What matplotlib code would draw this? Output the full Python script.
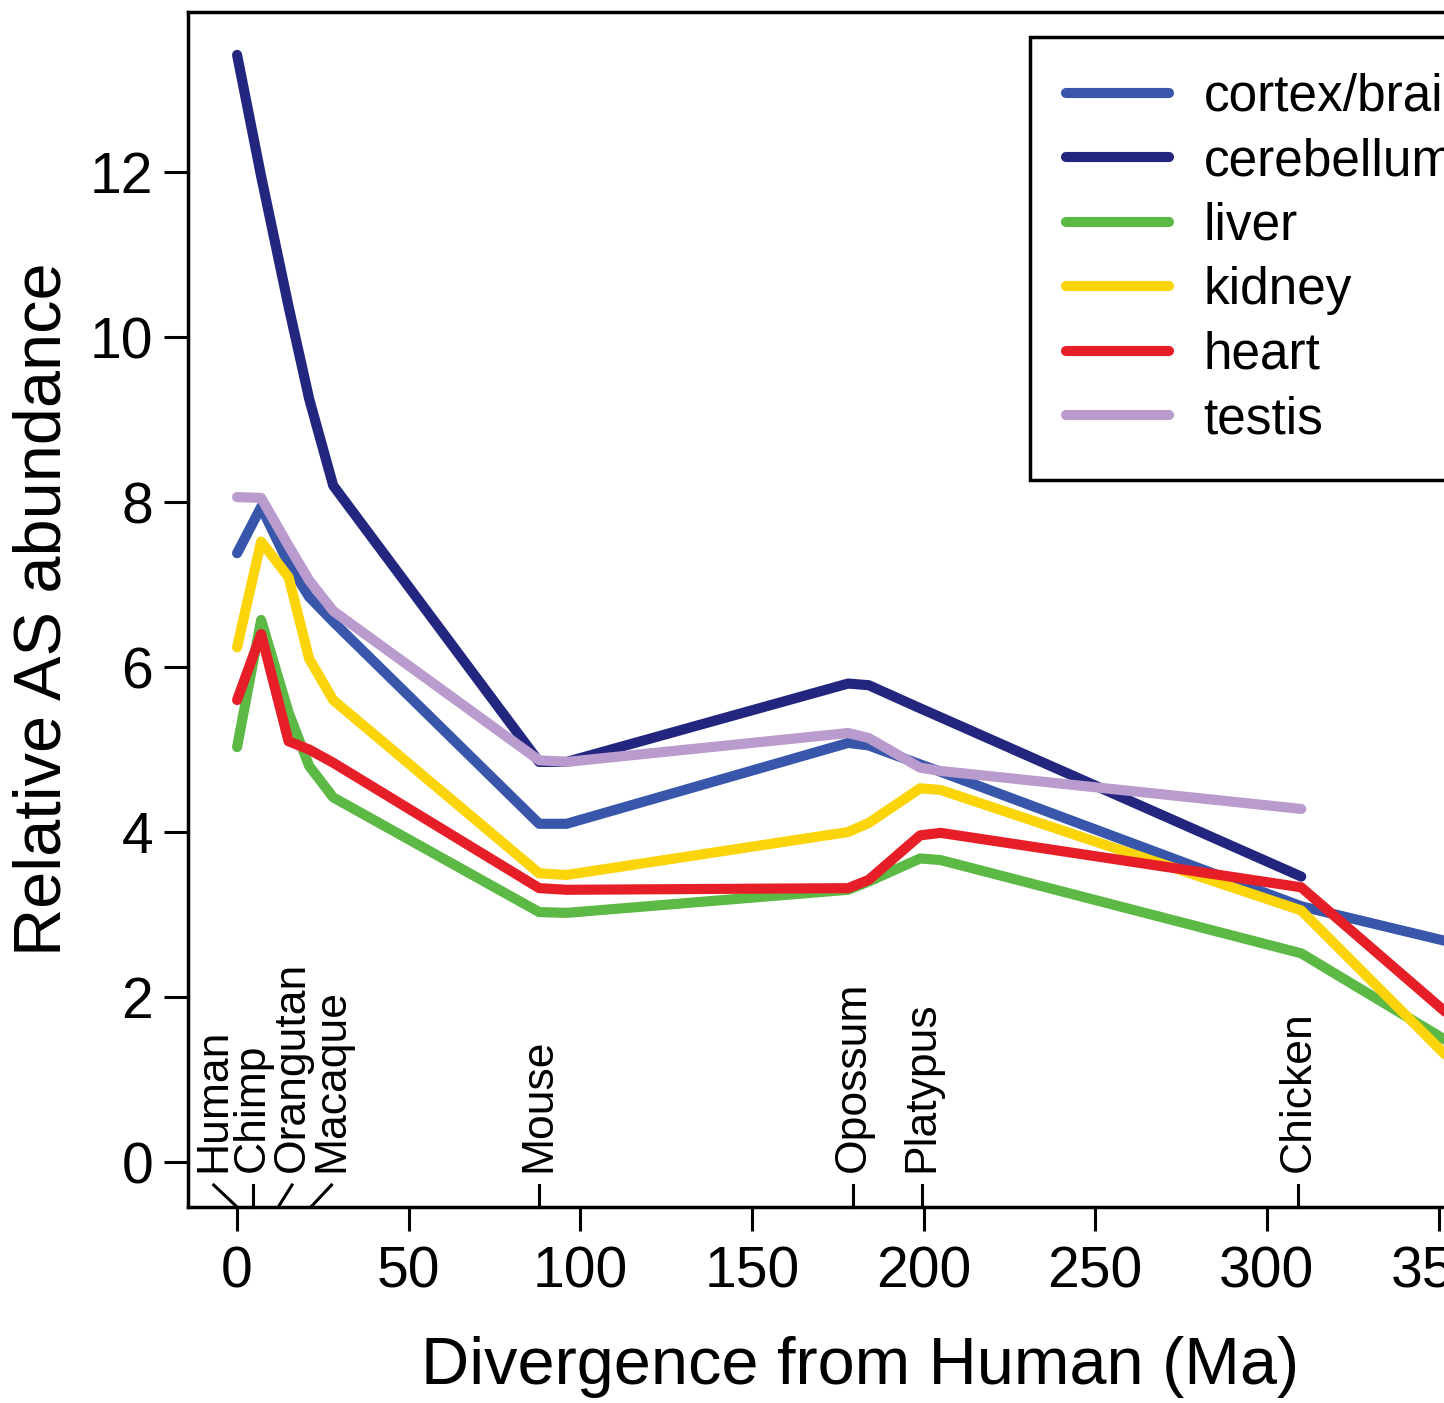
import matplotlib
matplotlib.use('Agg')
import matplotlib.pyplot as plt
import matplotlib.transforms as mtransforms
import numpy as np

plt.rcParams['font.family'] = ['Liberation Sans', 'DejaVu Sans']

# divergence times (Ma) where the curves bend
ma = [0, 7, 15, 21, 28, 88, 96, 178, 184, 199, 205, 310, 352]

cortex = [7.38, 7.94, 7.25, 6.85, 6.55, 4.10, 4.10, 5.08, 5.05, 4.82, 4.73, 3.10, 2.68]
cerebellum = [13.42, 11.95, 10.37, 9.25, 8.20, 4.85, 4.85, 5.80, 5.78, 5.50, 5.39, 3.46, np.nan]
liver = [5.03, 6.57, 5.45, 4.80, 4.42, 3.03, 3.02, 3.30, 3.40, 3.68, 3.66, 2.53, 1.48]
kidney = [6.24, 7.52, 7.09, 6.10, 5.60, 3.50, 3.48, 4.00, 4.11, 4.53, 4.51, 3.05, 1.30]
heart = [5.60, 6.40, 5.10, 5.00, 4.84, 3.32, 3.30, 3.32, 3.42, 3.96, 3.99, 3.33, 1.82]
testis = [8.06, 8.05, 7.47, 7.05, 6.68, 4.87, 4.85, 5.20, 5.14, 4.78, 4.74, 4.28, np.nan]

tissues = ['cortex/brain', 'cerebellum', 'liver', 'kidney', 'heart', 'testis']
colors = ['#3857aa', '#23267f', '#5db946', '#fbd40a', '#e61e28', '#b99bcd']

species = ['Human', 'Chimp', 'Orangutan', 'Macaque', 'Mouse', 'Opossum', 'Platypus', 'Chicken']
species_ma = [0, 4.5, 12, 21.5, 88, 179.5, 199.5, 309]
# where the rotated names sit (spread apart for the crowded primates)
label_x = [-6.8, 4.5, 16.0, 27.5, 88, 179.5, 199.5, 309]

fig = plt.figure(figsize=(14.44, 14.03), dpi=100)
ax = fig.add_axes([188 / 1444, 196 / 1403, 1302 / 1444, 1195 / 1403])

for vals, name, col in zip([cortex, cerebellum, liver, kidney, heart, testis], tissues, colors):
    ax.plot(ma, vals, color=col, lw=7.3, label=name,
            solid_joinstyle='round', solid_capstyle='round')

ax.set_xlim(-14.3, 365)
ax.set_ylim(-0.545, 13.94)
ax.set_xticks(np.arange(0, 351, 50))
ax.set_yticks(np.arange(0, 13, 2))

for side in ['left', 'top', 'bottom']:
    ax.spines[side].set_linewidth(2.5)
ax.spines['right'].set_visible(False)

ax.tick_params(axis='both', direction='out', length=17, width=2.2, labelsize=41)
ax.tick_params(axis='y', pad=8)
ax.tick_params(axis='x', pad=11)

# species marks inside the plot along the bottom
trans = mtransforms.blended_transform_factory(ax.transData, ax.transAxes)
for name, pos, lx in zip(species, species_ma, label_x):
    ax.plot([lx, pos], [0.0184, 0], color='black', lw=2.2, transform=trans, clip_on=False)
    ax.text(lx, 0.029, name, rotation=90, ha='center', va='bottom',
            fontsize=32, transform=trans)

ax.set_ylabel('Relative AS abundance', fontsize=48)
ax.yaxis.set_label_coords(-0.087, 0.5)
ax.set_xlabel('Divergence from Human (Ma)', fontsize=48)
ax.xaxis.set_label_coords(0.516, -0.108)

leg = ax.legend(loc='upper left', bbox_to_anchor=((1030 - 188) / 1302, (1207 - 37) / 1195),
                fontsize=37, frameon=True, fancybox=False, framealpha=1, edgecolor='black',
                handlelength=2.0, handletextpad=0.68, labelspacing=0.3,
                borderpad=0.7, borderaxespad=0)
leg.get_frame().set_linewidth(2.5)

fig.savefig('out.png', dpi=100)
